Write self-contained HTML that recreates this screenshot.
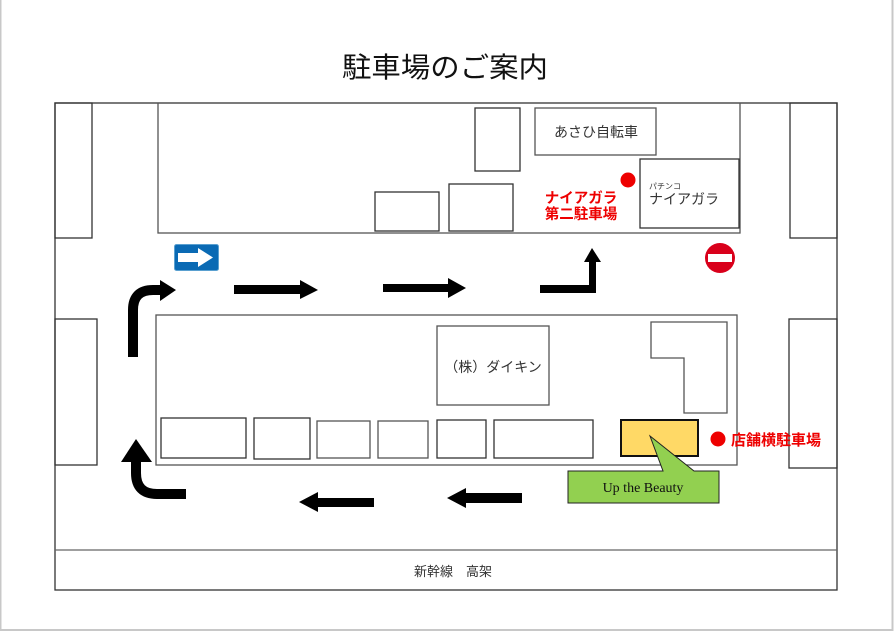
<!DOCTYPE html>
<html><head><meta charset="utf-8"><style>
html,body{margin:0;padding:0;background:#fff}
svg{display:block}
text{font-family:"Liberation Sans","Noto Sans CJK JP",sans-serif}
</style></head><body>
<svg width="894" height="632" viewBox="0 0 894 632" xmlns="http://www.w3.org/2000/svg">
<rect x="0.5" y="-2" width="892" height="632" fill="#fff" stroke="#c8c8c8" stroke-width="2"/>
<text x="445" y="77" font-size="28" text-anchor="middle" fill="#111" textLength="206" lengthAdjust="spacingAndGlyphs">駐車場のご案内</text>
<g fill="none" stroke="#333" stroke-width="1.3">
<rect x="55" y="103" width="782" height="487"/>
<line x1="55" y1="550" x2="837" y2="550" stroke="#666"/>
<rect x="55" y="103" width="37" height="135"/>
<rect x="790" y="103" width="47" height="135"/>
<rect x="55" y="319" width="42" height="146"/>
<rect x="789" y="319" width="48" height="149"/>
<rect x="158" y="103" width="582" height="130" stroke="#555"/>
<rect x="475" y="108" width="45" height="63"/>
<rect x="535" y="108" width="121" height="47" stroke="#555"/>
<rect x="640" y="159" width="99" height="69"/>
<rect x="375" y="192" width="64" height="39"/>
<rect x="449" y="184" width="64" height="47"/>
<rect x="156" y="315" width="581" height="150" stroke="#555"/>
<rect x="437" y="326" width="112" height="79" stroke="#555"/>
<polygon points="651,322 727,322 727,413 684,413 684,358 651,358" stroke="#555"/>
<rect x="161" y="418" width="85" height="40"/>
<rect x="254" y="418" width="56" height="41"/>
<rect x="317" y="421" width="53" height="37" stroke="#555"/>
<rect x="378" y="421" width="50" height="37" stroke="#555"/>
<rect x="437" y="420" width="49" height="38"/>
<rect x="494" y="420" width="99" height="38"/>
</g>
<text x="596" y="137" font-size="14" text-anchor="middle" fill="#333">あさひ自転車</text>
<text x="649" y="189" font-size="8" fill="#333">パチンコ</text>
<text x="649" y="204" font-size="14" fill="#333">ナイアガラ</text>
<text x="493" y="372" font-size="14" text-anchor="middle" fill="#333">（株）ダイキン</text>
<text x="453" y="576" font-size="13" text-anchor="middle" fill="#333">新幹線　高架</text>
<circle cx="628" cy="180" r="7.5" fill="#e00"/>
<text x="581" y="203" font-size="14.5" font-weight="bold" text-anchor="middle" fill="#e00">ナイアガラ</text>
<text x="581" y="219" font-size="14.5" font-weight="bold" text-anchor="middle" fill="#e00">第二駐車場</text>
<circle cx="718" cy="439" r="7.5" fill="#e00"/>
<text x="731" y="445" font-size="15" font-weight="bold" fill="#e00">店舗横駐車場</text>
<circle cx="720" cy="258" r="15" fill="#d9001b"/>
<rect x="708" y="254" width="24" height="8" fill="#fff"/>
<rect x="174.5" y="244.5" width="44" height="26" rx="2" fill="#0a6ab4" stroke="#5aa0d0"/>
<polygon points="178,253 198,253 198,248 213,257.5 198,267 198,262 178,262" fill="#fff"/>
<rect x="621" y="420" width="77" height="36" fill="#ffd966" stroke="#111" stroke-width="2"/>
<polygon points="568,471 663,471 650,436 694,471 719,471 719,503 568,503" fill="#92d050" stroke="#222" stroke-width="1"/>
<text x="643" y="492" font-size="14" text-anchor="middle" fill="#111" style="font-family:'Liberation Serif',serif">Up the Beauty</text>
<g fill="#000">
<polygon points="234,285 300,285 300,280 318,290 300,299 300,294 234,294"/>
<polygon points="383,284 448,284 448,278 466,288 448,298 448,292 383,292"/>
<polygon points="540,285 589,285 589,262 584,262 592,248 601,262 596,262 596,293 540,293"/>
<polygon points="374,498 318,498 318,492 299,502 318,512 318,507 374,507"/>
<polygon points="522,493 466,493 466,488 447,498 466,508 466,503 522,503"/>
</g>
<path d="M133,357 V310 Q133,290 153,290 H162" fill="none" stroke="#000" stroke-width="10"/>
<polygon points="160,280 176,290 160,301"/>
<path d="M186,494 H157 Q136,494 136,473 V455" fill="none" stroke="#000" stroke-width="10"/>
<polygon points="121,462 136,439 152,462"/>
</svg>
</body></html>
